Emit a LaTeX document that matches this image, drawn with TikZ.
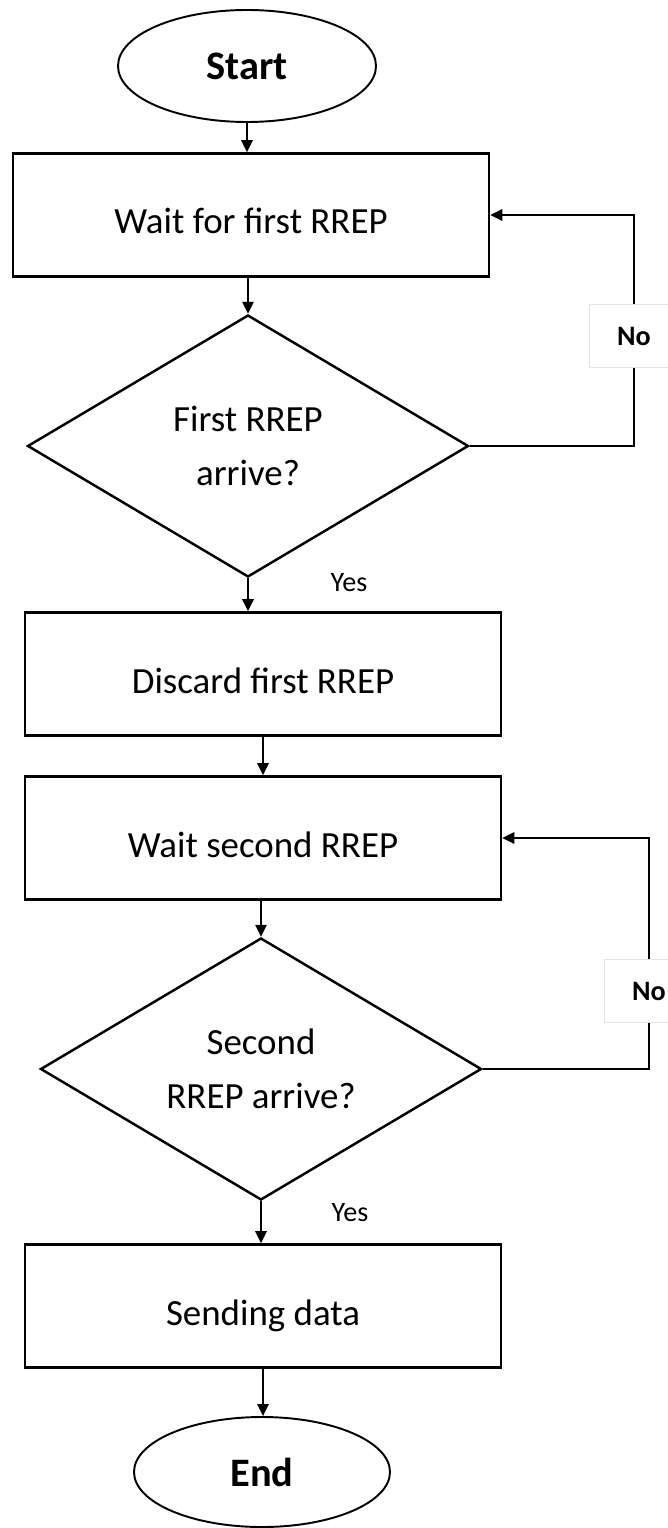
\documentclass[tikz,border=0pt]{standalone}
\usepackage{fontspec}
\setmainfont{Carlito}
\usetikzlibrary{shapes.geometric,arrows.meta}
\tikzset{
  procbox/.style={draw,line width=1.5pt,rectangle,minimum width=95.2mm,minimum height=24.6mm,inner sep=0pt,
    text height=7.6mm,text depth=0pt,font=\fontsize{21}{25}\selectfont},
  termnode/.style={draw,line width=1.1pt,ellipse,inner sep=0pt,font=\bfseries\fontsize{23}{27}\selectfont},
  decnode/.style={draw,line width=1.4pt,diamond,aspect=1.7,inner sep=0pt,minimum width=88.2mm,minimum height=52.4mm,
    align=center,font=\fontsize{21}{31}\selectfont},
  flow/.style={line width=0.75pt,-{Triangle[length=2.4mm,width=2.3mm]}},
  nolabel/.style={fill=white,draw=black!10,line width=0.4pt,minimum width=18mm,minimum height=12.6mm,
    font=\bfseries\fontsize{16}{19}\selectfont},
  yeslabel/.style={font=\fontsize{16}{19}\selectfont}
}
\begin{document}
\begin{tikzpicture}[x=0.2mm,y=-0.2mm]
\useasboundingbox (0,0) rectangle (668,1528);
\node [termnode,minimum width=51.6mm,minimum height=22.4mm] (v1) at (247,66) {Start};
\node [procbox] (v2) at (251,215) {Wait for first RREP};
\node [decnode] (v3) at (248,446) {First RREP\\arrive?};
\node [procbox] (v4) at (263,674) {Discard first RREP};
\node [procbox] (v5) at (263,838) {Wait second RREP};
\node [decnode] (v6) at (261,1069) {Second\\RREP arrive?};
\node [procbox] (v7) at (263,1306) {Sending data};
\node [termnode,minimum width=51.2mm,minimum height=22mm] (v8) at (262,1472) {End};
\node [yeslabel] (y1) at (349,583) {Yes};
\node [yeslabel] (y2) at (350,1213) {Yes};
\draw [flow] (v1.south) -- (v1.south |- v2.north);
\draw [flow] (v2.south -| v3.north) -- (v3.north);
\draw [flow] (v3.south) -- (v3.south |- v4.north);
\draw [flow] (v4.south) -- (v4.south |- v5.north);
\draw [flow] (v5.south -| v6.north) -- (v6.north);
\draw [flow] (v6.south) -- (v6.south |- v7.north);
\draw [flow] (v7.south) -- (v7.south |- v8.north);
\coordinate (c1) at (634,446);
\coordinate (c2) at (649,1069);
\draw [flow] (v3.east) -- (c1) |- (v2.east);
\draw [flow] (v6.east) -- (c2) |- (v5.east);
\node [nolabel] (n1) at (634,336) {No};
\node [nolabel] (n2) at (649,991) {No};
\end{tikzpicture}
\end{document}
